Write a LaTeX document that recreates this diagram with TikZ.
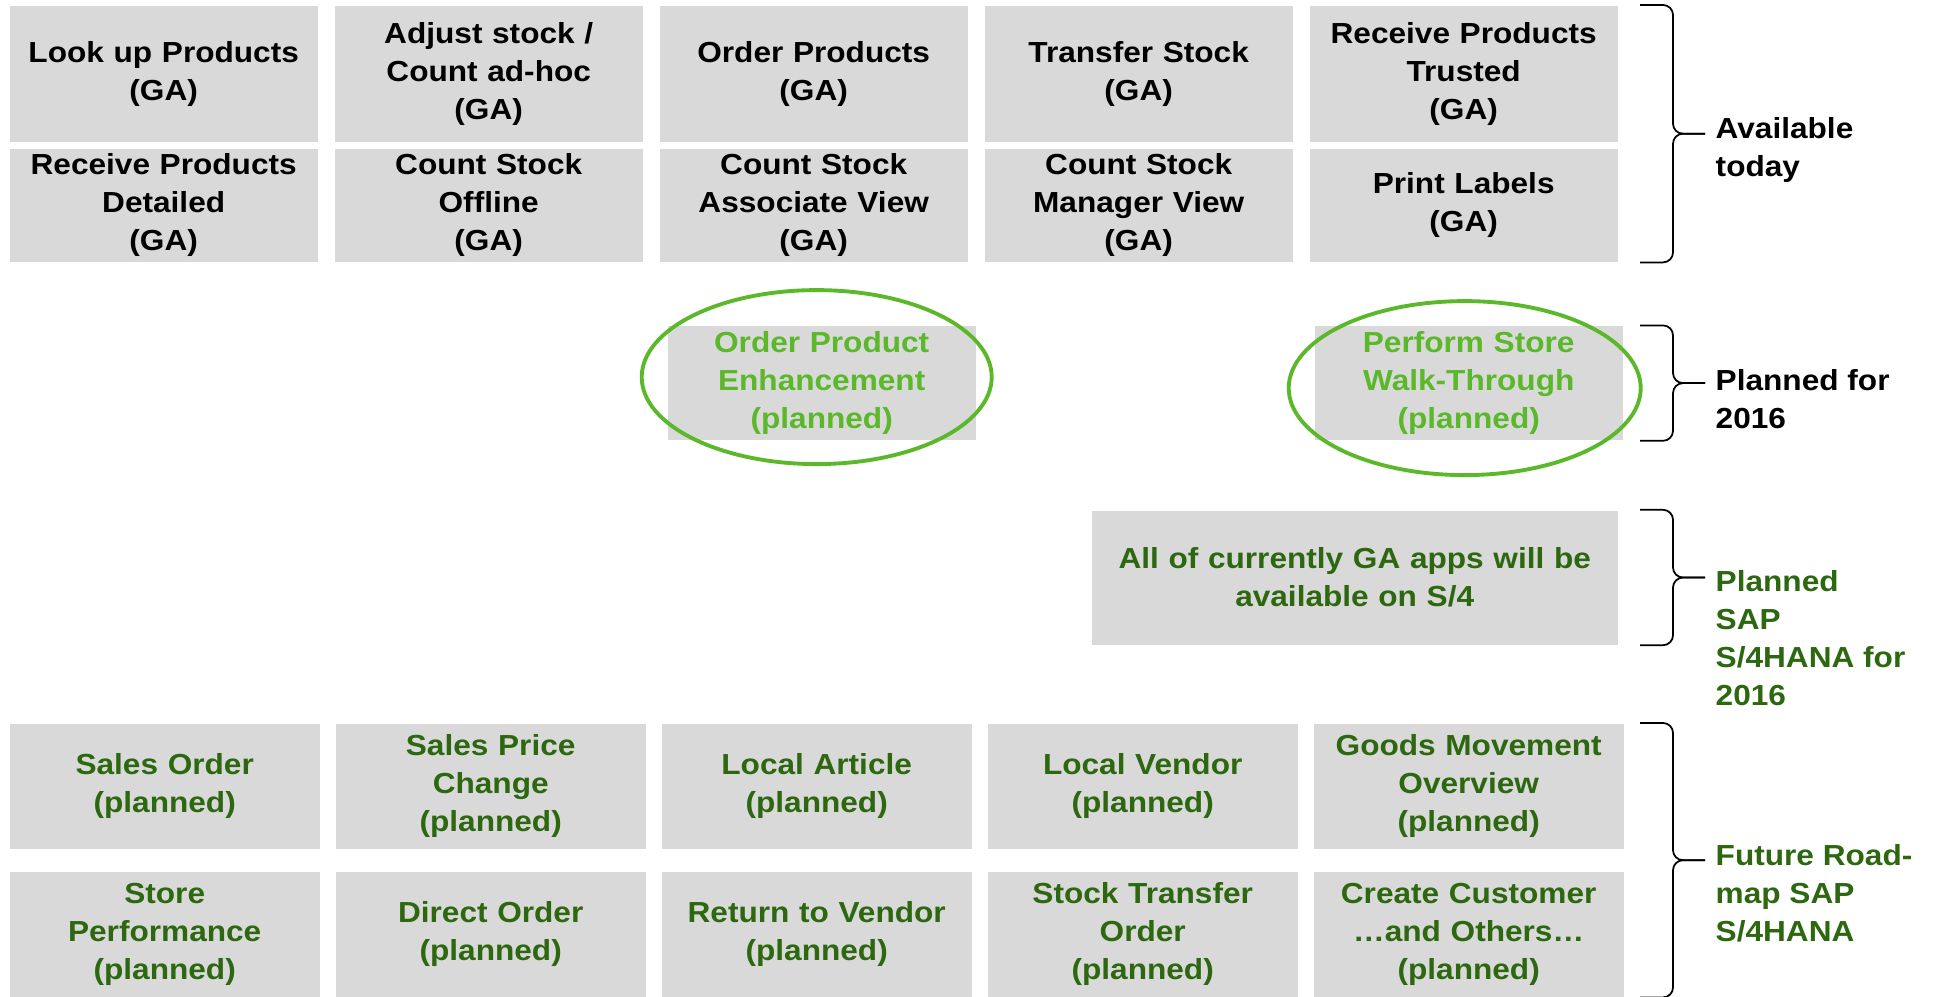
\documentclass[tikz,border=0pt]{standalone}
\usepackage{fontspec}
\setmainfont{Liberation Sans}[FakeStretch=1.09]
\usetikzlibrary{matrix,positioning,calc}

\definecolor{tilegray}{HTML}{D9D9D9}
\definecolor{plangreen}{HTML}{5AB82A}
\definecolor{roadgreen}{HTML}{2D6810}
\providecommand{\appfont}{\fontsize{8.25pt}{10.8pt}\selectfont\bfseries}
% curly bracket from #1 down to #2, its tip is named #3
\newcommand{\roadbrace}[3]{%
  \coordinate (#3) at ($(#1)!.5!(#2)+(6.5mm,0)$);
  \draw[bracket] (#1) -| ([xshift=-3.2mm]#3) -- (#3);
  \draw[bracket] (#2) -| ([xshift=-3.2mm]#3) -- (#3);
}

\begin{document}
\begin{tikzpicture}[
    apptile/.style={fill=tilegray, inner sep=0pt, anchor=center, align=center,
      text width=29.5mm, minimum width=30.8mm, font=\appfont},
    plantile/.style={apptile, text=plangreen, minimum height=11.4mm},
    ring/.style={draw=plangreen, line width=1.1pt},
    bracket/.style={draw=black, line width=0.5pt, rounded corners=1mm},
    bracetext/.style={anchor=north west, inner sep=0pt, align=left, font=\appfont,
      xshift=1mm, yshift=1.65mm}
  ]
  \useasboundingbox (0,0) rectangle (193.7mm,-99.7mm);

  % apps available today
  \matrix (ga) [matrix of nodes, anchor=north west, inner sep=0pt,
    column sep=1.7mm, row sep=0.7mm, nodes={apptile},
    row 1/.style={nodes={minimum height=13.6mm}},
    row 2/.style={nodes={minimum height=11.3mm}}] at (0.9mm,-0.5mm)
  {
    {Look up Products\\(GA)} & {Adjust stock /\\Count ad-hoc\\(GA)} & {Order Products\\(GA)} & {Transfer Stock\\(GA)} & {Receive Products\\Trusted\\(GA)} \\
    {Receive Products\\Detailed\\(GA)} & {Count Stock\\Offline\\(GA)} & {Count Stock\\Associate View\\(GA)} & {Count Stock\\Manager View\\(GA)} & {Print Labels\\(GA)} \\
  };

  % planned for 2016
  \node[plantile, below=6.3mm of ga-2-3, xshift=0.8mm] (enh) {Order Product\\Enhancement\\(planned)};
  \node[plantile, below=6.3mm of ga-2-5, xshift=0.5mm] (walk) {Perform Store\\Walk-Through\\(planned)};
  \draw[ring] ([shift={(-0.5mm,0.6mm)}]enh.center) ellipse [x radius=17.5mm, y radius=8.7mm];
  \draw[ring] ([shift={(-0.4mm,-0.5mm)}]walk.center) ellipse [x radius=17.6mm, y radius=8.7mm];

  % planned for S/4HANA
  \node[apptile, text=roadgreen, text width=50mm, minimum width=52.6mm,
    minimum height=13.4mm, below=6.9mm of walk.south east, anchor=north east,
    xshift=-0.5mm] (s4)
    {All of currently GA apps will be\\available on S/4};

  % future road-map
  \matrix (road) [matrix of nodes, anchor=north west, inner sep=0pt,
    column sep=1.6mm, row sep=2.3mm,
    nodes={apptile, text=roadgreen, minimum width=31mm, minimum height=12.5mm}] at (0.9mm,-72.3mm)
  {
    {Sales Order\\(planned)} & {Sales Price\\Change\\(planned)} & {Local Article\\(planned)} & {Local Vendor\\(planned)} & {Goods Movement\\Overview\\(planned)} \\
    {Store\\Performance\\(planned)} & {Direct Order\\(planned)} & {Return to Vendor\\(planned)} & {Stock Transfer\\Order\\(planned)} & {Create Customer\\…and Others…\\(planned)} \\
  };

  % brackets on the right
  \coordinate (rim) at (164mm,0);
  \roadbrace{rim |- ga-1-5.north}{rim |- ga-2-5.south}{today-tip}
  \roadbrace{rim |- walk.north}{rim |- walk.south}{plan-tip}
  \roadbrace{rim |- s4.north}{rim |- s4.south}{s4-tip}
  \roadbrace{rim |- road-1-5.north}{rim |- road-2-5.south}{road-tip}
  \node[bracetext] (today) at (today-tip) {Available\\today};
  \node[bracetext, yshift=-0.2mm] (plan) at (plan-tip) {Planned for\\2016};
  \node[bracetext, text=roadgreen, yshift=-0.85mm] (s4label) at (s4-tip) {Planned\\SAP\\S/4HANA for\\2016};
  \node[bracetext, text=roadgreen] (roadlabel) at (road-tip) {Future Road-\\map SAP\\S/4HANA};
\end{tikzpicture}
\end{document}
